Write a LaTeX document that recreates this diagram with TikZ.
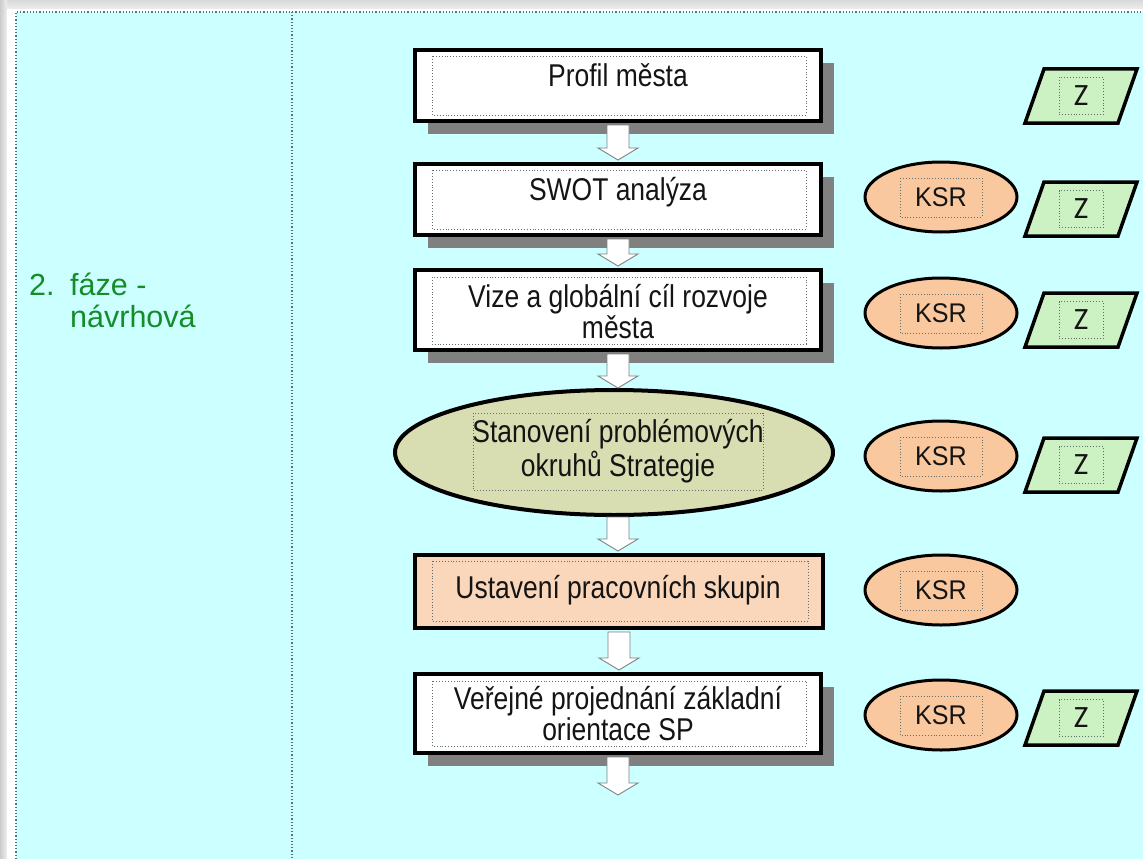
\documentclass[tikz,border=0pt]{standalone}
\usepackage{fontspec}
\setmainfont{Liberation Sans}
\newfontfamily\boxfont[FakeStretch=0.84]{Liberation Sans}
\newfontfamily\ksrfont[FakeStretch=0.93]{Liberation Sans}
\newfontfamily\zfont{Carlito}
\usetikzlibrary{calc,shadows,shapes.geometric}
\definecolor{bgcyan}{RGB}{204,255,255}
\definecolor{phasegreen}{RGB}{20,140,40}
\definecolor{olivefill}{RGB}{216,222,178}
\definecolor{peachbox}{RGB}{250,215,187}
\definecolor{ksrfill}{RGB}{250,200,158}
\definecolor{zfill}{RGB}{204,242,196}
\definecolor{shadowgray}{RGB}{128,128,128}
\definecolor{framegray}{RGB}{96,110,110}
\definecolor{arrowgray}{RGB}{130,130,130}
\definecolor{textdark}{RGB}{20,20,20}
\tikzset{
  mainbox/.style={draw=black, line width=4pt, fill=white, minimum width=406pt, inner sep=0pt},
  boxshadow/.style={drop shadow={shadow xshift=13pt, shadow yshift=-13pt, fill=shadowgray, opacity=1}},
  boxtext/.style={font=\boxfont\fontsize{31.5pt}{33pt}\selectfont, text=textdark, inner sep=0pt, anchor=base},
  dotbox/.style={draw=framegray, dotted, line width=0.9pt},
  blockarr/.style={draw=arrowgray, line width=0.9pt, fill=white},
  ksrnode/.style={ellipse, draw=black, line width=3pt, fill=ksrfill, minimum width=152pt, minimum height=70pt, inner sep=0pt, text=textdark, font=\ksrfont\fontsize{27pt}{28pt}\selectfont},
  zpar/.style={draw=black, line width=3.5pt, fill=zfill, line join=miter},
  zin/.style={dotbox, minimum width=44pt, minimum height=37pt, inner sep=0pt, text=textdark, font=\zfont\fontsize{31pt}{32pt}\selectfont},
  phase/.style={font=\fontsize{30.5pt}{33pt}\selectfont, text=phasegreen, inner sep=0pt, anchor=base west},
  frameline/.style={draw=framegray, dotted, line width=1.2pt}
}
\newcommand\blockarrow[2]{%
  \draw[blockarr] let \p1=(#1), \p2=(#2) in
    (\x1-11pt,\y1) -- (\x1-11pt,\y2+12pt) -- (\x1-20pt,\y2+12pt) -- (\x1,\y2)
    -- (\x1+20pt,\y2+12pt) -- (\x1+11pt,\y2+12pt) -- (\x1+11pt,\y1) -- cycle;}
\newcommand\zshape[2]{%
  \draw[zpar] ($(#2)+(-37,-27)$) -- ($(#2)+(56,-27)$) -- ($(#2)+(37,27)$) -- ($(#2)+(-56,27)$) -- cycle;
  \node[zin] (#1) at (#2) {Z};}
\newcommand\ksrshape[2]{%
  \node[ksrnode] (#1) at (#2) {KSR};
  \draw[dotbox] ($(#2)+(-41,-19)$) rectangle ($(#2)+(41,20)$);}
\begin{document}
\begin{tikzpicture}[x=1pt,y=-1pt]
\useasboundingbox (0,0) rectangle (1143,859);
% background frame
\fill[gray!12] (0,0) rectangle (1143,859);
\shade[top color=gray!30, bottom color=gray!12] (0,0) rectangle (1143,10);
\shade[left color=gray!40, right color=gray!12] (0,0) rectangle (7,859);
\fill[white] (7,9) rectangle (1143,859);
\fill[bgcyan] (16,12) rectangle (1143,859);
\draw[frameline] (16,859) -- (16,12) -- (1143,12);
\draw[frameline] (292,12) -- (292,859);

% phase label
\node[phase] (ph1) at (29,295) {2.};
\node[phase] (ph2) at (70,295) {fáze -};
\node[phase] (ph3) at (70,327) {návrhová};

% main boxes
\node[mainbox, boxshadow, minimum height=71pt] (b1) at (618,85.5) {};
\node[mainbox, boxshadow, minimum height=71pt] (b2) at (618,199.5) {};
\node[mainbox, boxshadow, minimum height=80pt] (b3) at (618,310) {};
\node[ellipse, draw=black, line width=4pt, fill=olivefill, minimum width=438pt, minimum height=125pt, inner sep=0pt] (e4) at (614,452.5) {};
\node[mainbox, fill=peachbox, minimum height=73pt, minimum width=408pt] (b5) at (619,591.5) {};
\node[mainbox, boxshadow, minimum height=79pt] (b6) at (618,713.5) {};

% inner dotted frames
\draw[dotbox] ($(b1.north west)+(19,8)$) rectangle ($(b1.south east)+(-17,-8)$);
\draw[dotbox] ($(b2.north west)+(19,8)$) rectangle ($(b2.south east)+(-17,-8)$);
\draw[dotbox] ($(b3.north west)+(19,9)$) rectangle ($(b3.south east)+(-17,-8)$);
\draw[dotbox] (473,413) rectangle (763,490);
\draw[dotbox] ($(b5.north west)+(19,8)$) rectangle ($(b5.south east)+(-17,-9)$);
\draw[dotbox] ($(b6.north west)+(19,9)$) rectangle ($(b6.south east)+(-17,-9)$);

% texts
\node[boxtext] (t1) at (618,86) {Profil města};
\node[boxtext] (t2) at (618,200) {SWOT analýza};
\node[boxtext] (t3a) at (618,307) {Vize a globální cíl rozvoje};
\node[boxtext] (t3b) at (618,338) {města};
\node[boxtext] (t4a) at (618,442) {Stanovení problémových};
\node[boxtext] (t4b) at (618,476) {okruhů Strategie};
\node[boxtext] (t5) at (618,598) {Ustavení pracovních skupin};
\node[boxtext] (t6a) at (618,709) {Veřejné projednání základní};
\node[boxtext] (t6b) at (618,740) {orientace SP};

% block arrows
\coordinate (endpt) at (618,795);
\blockarrow{$(b1.south)+(0,2)$}{$(b2.north)+(0,-2)$}
\blockarrow{$(b2.south)+(0,2)$}{$(b3.north)+(0,-2)$}
\blockarrow{$(b3.south)+(0,2)$}{$(618,388)$}
\blockarrow{$(618,517)$}{$(b5.north)+(0,-2)$}
\blockarrow{$(b5.south)+(0,2)$}{$(b6.north)+(0,-2)$}
\blockarrow{$(b6.south)+(0,2)$}{endpt}

% KSR ellipses
\ksrshape{k2}{941,197}
\ksrshape{k3}{941,313}
\ksrshape{k4}{941,456}
\ksrshape{k5}{941,590}
\ksrshape{k6}{941,715}

% Z parallelograms
\zshape{z1}{1081,96}
\zshape{z2}{1081,209}
\zshape{z3}{1081,320}
\zshape{z4}{1081,465}
\zshape{z6}{1081,718}
\end{tikzpicture}
\end{document}
